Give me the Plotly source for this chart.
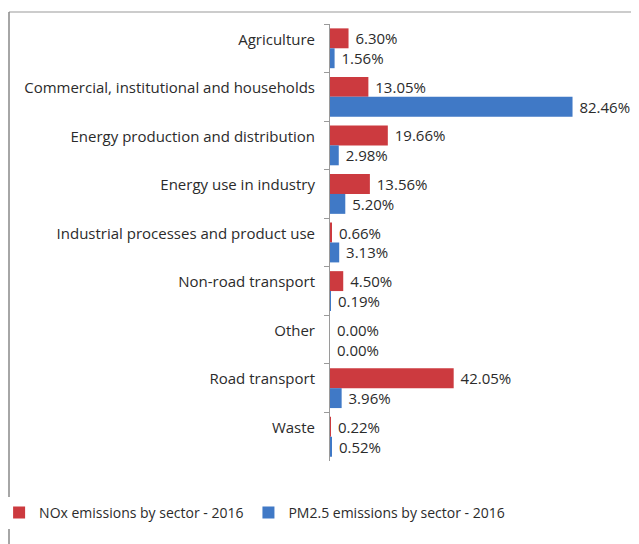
import plotly.graph_objects as go

sectors = [
    "Agriculture",
    "Commercial, institutional and households",
    "Energy production and distribution",
    "Energy use in industry",
    "Industrial processes and product use",
    "Non-road transport",
    "Other",
    "Road transport",
    "Waste",
]
nox = [6.30, 13.05, 19.66, 13.56, 0.66, 4.50, 0.00, 42.05, 0.22]
pm25 = [1.56, 82.46, 2.98, 5.20, 3.13, 0.19, 0.00, 3.96, 0.52]
series_names = ["NOx emissions by sector - 2016", "PM2.5 emissions by sector - 2016"]

RED = "#CC3A3F"
BLUE = "#4079C6"
FONT = "Open Sans"
TXT = "#2b2b2b"

fig = go.Figure()
for name, vals, col in [(series_names[0], nox, RED), (series_names[1], pm25, BLUE)]:
    fig.add_trace(go.Bar(
        y=sectors, x=vals, orientation="h", name=name,
        marker=dict(color=col, line=dict(width=0)),
        texttemplate=" %{x:.2f}%", textposition="outside", constraintext="none",
        textfont=dict(family=FONT, size=15, color=TXT),
        cliponaxis=False,
    ))

fig.update_layout(
    width=631, height=536,
    margin=dict(l=322, r=9, t=16, b=83, autoexpand=False),
    paper_bgcolor="white", plot_bgcolor="white",
    barmode="group", bargap=0.18, bargroupgap=0.0,
    font=dict(family=FONT, size=14, color=TXT),
    showlegend=True,
    legend=dict(orientation="h", x=-1.103, y=-0.082, xanchor="left", yanchor="top",
                font=dict(family=FONT, size=14, color=TXT),
                itemwidth=30, traceorder="normal"),
    xaxis=dict(range=[0, 102], showgrid=False, showticklabels=False, zeroline=False,
               showline=False, fixedrange=True),
    yaxis=dict(autorange="reversed", showline=True, linecolor="#9a9a9a", linewidth=1,
               ticks="outside", tickson="boundaries", ticklen=5, tickcolor="#9a9a9a",
               showgrid=False, tickfont=dict(family=FONT, size=15, color=TXT),
               ticklabelshift=9, ticklabelstandoff=11),
    shapes=[
        dict(type="line", xref="paper", yref="paper", x0=-1.07, x1=1.1, y0=1.0275, y1=1.0275,
             line=dict(color="#bbbbbb", width=1.5)),
        dict(type="line", xref="paper", yref="paper", x0=-1.07, x1=-1.07, y0=1.0275, y1=-0.25,
             line=dict(color="#888888", width=1.5)),
    ],
)

fig.write_html("out.html")
